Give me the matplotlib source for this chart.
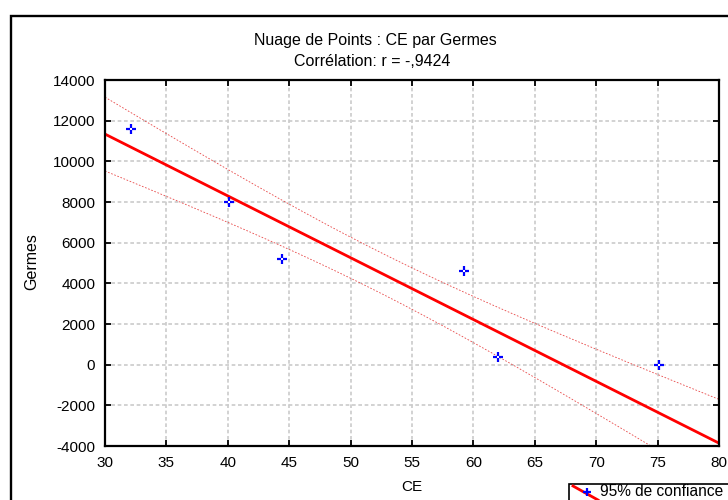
import numpy as np
import matplotlib
matplotlib.use("Agg")
import matplotlib.pyplot as plt
from matplotlib.patches import Rectangle
from matplotlib.lines import Line2D

# Observations
ce = [32.1, 40.1, 44.4, 59.2, 62.0, 75.1]
germes = [11600, 8000, 5200, 4600, 400, 0]

# Fitted line and 95% confidence band parameters
fit_intercept = 20460.0
fit_slope = -304.0
band_halfwidth_at_mean = 1000.0

x_ticks = [30, 35, 40, 45, 50, 55, 60, 65, 70, 75, 80]
x_tick_labels = ["30", "35", "40", "45", "50", "55", "60", "65", "70", "75", "80"]
y_ticks = [-4000, -2000, 0, 2000, 4000, 6000, 8000, 10000, 12000, 14000]
y_tick_labels = ["-4000", "-2000", "0", "2000", "4000", "6000", "8000",
                 "10000", "12000", "14000"]

title = "Nuage de Points : CE par Germes"
subtitle = "Corrélation: r = -,9424"
x_label = "CE"
y_label = "Germes"
legend_label = "95% de confiance"

plt.rcParams['font.family'] = ['Liberation Sans', 'DejaVu Sans']

W, H = 728, 500
fig = plt.figure(figsize=(W / 100, H / 100), dpi=100)


def fx(px):
    return px / W


def fy(py):
    return 1 - py / H


ax = fig.add_axes([fx(105), fy(446), fx(719) - fx(105), fy(80) - fy(446)])

ax.set_xlim(x_ticks[0], x_ticks[-1])
ax.set_ylim(y_ticks[0], y_ticks[-1])
ax.set_xticks(x_ticks)
ax.set_xticklabels(x_tick_labels)
ax.set_yticks(y_ticks)
ax.set_yticklabels(y_tick_labels)
ax.tick_params(direction='in', length=4, width=1.3, top=True, right=True,
               labelsize=11, pad=7, colors='black')
for s in ax.spines.values():
    s.set_linewidth(1.6)
    s.set_zorder(6)

ax.grid(True, color='#cbcbcb', linestyle=(0, (2.2, 1.6)), linewidth=1.2)
ax.set_axisbelow(True)

# Regression line with its confidence band
xs = np.linspace(x_ticks[0], x_ticks[-1], 300)
yfit = fit_intercept + fit_slope * xs
x_arr = np.asarray(ce, dtype=float)
n = len(x_arr)
xbar = x_arr.mean()
sxx = ((x_arr - xbar) ** 2).sum()
half = band_halfwidth_at_mean * np.sqrt(1 + n * (xs - xbar) ** 2 / sxx)

ax.plot(xs, yfit, color='#ff0000', lw=2.0, zorder=3)
ax.plot(xs, yfit + half, color='#e84848', lw=0.6, linestyle=(0, (2, 2)), zorder=3)
ax.plot(xs, yfit - half, color='#e84848', lw=0.6, linestyle=(0, (2, 2)), zorder=3)

# Points
ax.plot(ce, germes, linestyle='none', marker='+', ms=6.5, mew=1.6,
        color='#0000ff', zorder=4)
ax.plot(ce, germes, linestyle='none', marker='s', ms=1.6, mew=0,
        color='white', zorder=5)

# Titles and axis labels
fig.text(fx(375), fy(40), title, ha='center', va='center', fontsize=11.5)
fig.text(fx(372), fy(61), subtitle, ha='center', va='center', fontsize=11.5)
fig.text(fx(412), fy(487), x_label, ha='center', va='center', fontsize=11)
fig.text(fx(32), fy(262), y_label, ha='center', va='center', fontsize=11.5,
         rotation=90)

# Outer frame
fig.add_artist(Rectangle((fx(10.5), -0.5), 2.0, fy(15.5) + 0.5,
                         transform=fig.transFigure, fill=False,
                         lw=1.7, edgecolor='black', clip_on=False))

# Legend box
fig.add_artist(Rectangle((fx(568.5), -0.5), 2.0, fy(483.5) + 0.5,
                         transform=fig.transFigure, fill=False,
                         lw=1.2, edgecolor='black', clip_on=False))
fig.add_artist(Line2D([fx(573), fx(598)], [fy(486), fy(500)],
                      transform=fig.transFigure, color='#ff0000', lw=2.0))
fig.add_artist(Line2D([fx(587)], [fy(491.5)], transform=fig.transFigure,
                      marker='+', ms=6, mew=1.6, color='#0000ff',
                      linestyle='none'))
fig.text(fx(600), fy(491), legend_label, ha='left', va='center', fontsize=11.2)

fig.savefig("out.png", dpi=100)
